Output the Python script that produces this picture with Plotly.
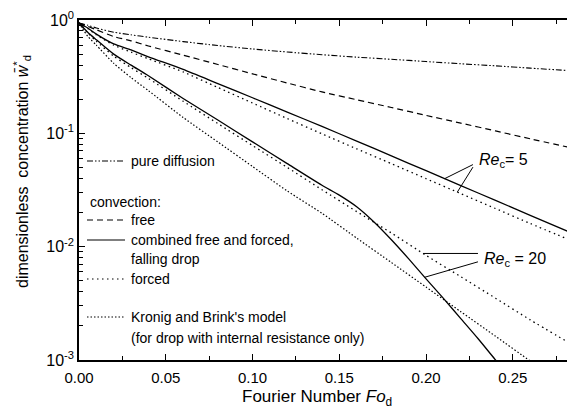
import numpy as np
import plotly.graph_objects as go

# ---------------- data ----------------
fo_pure = [0, 0.005, 0.01, 0.02, 0.03, 0.04, 0.06, 0.08, 0.10, 0.12, 0.14, 0.16, 0.18, 0.20, 0.22, 0.24, 0.26, 0.282]
w_pure = [0.94, 0.90, 0.85, 0.78, 0.74, 0.705, 0.645, 0.595, 0.555, 0.522, 0.494, 0.47, 0.45, 0.43, 0.411, 0.394, 0.376, 0.358]

fo_free = [0, 0.005, 0.01, 0.02, 0.03, 0.04, 0.06, 0.08, 0.10, 0.12, 0.14, 0.16, 0.18, 0.20, 0.22, 0.24, 0.26, 0.282]
w_free = [0.94, 0.88, 0.82, 0.715, 0.655, 0.59, 0.49, 0.405, 0.335, 0.278, 0.232, 0.198, 0.169, 0.144, 0.123, 0.105, 0.0895, 0.0755]

fo_comb5 = [0, 0.005, 0.01, 0.02, 0.03, 0.04, 0.06, 0.08, 0.10, 0.12, 0.14, 0.16, 0.18, 0.20, 0.22, 0.24, 0.26, 0.282]
w_comb5 = [0.94, 0.85, 0.75, 0.615, 0.545, 0.473, 0.367, 0.275, 0.206, 0.154, 0.115, 0.0855, 0.0632, 0.0468, 0.0346, 0.0256, 0.0189, 0.0136]

fo_forc5 = [0, 0.005, 0.01, 0.02, 0.03, 0.04, 0.06, 0.08, 0.10, 0.12, 0.14, 0.16, 0.18, 0.20, 0.22, 0.24, 0.26, 0.282]
w_forc5 = [0.94, 0.84, 0.74, 0.60, 0.52, 0.455, 0.348, 0.254, 0.185, 0.135, 0.099, 0.073, 0.054, 0.0398, 0.0294, 0.0217, 0.016, 0.0116]

fo_comb20 = [0, 0.005, 0.01, 0.02, 0.03, 0.04, 0.06, 0.08, 0.10, 0.12, 0.14, 0.15, 0.16, 0.17, 0.18, 0.19, 0.20, 0.21, 0.22, 0.23, 0.24, 0.25]
w_comb20 = [0.94, 0.78, 0.67, 0.50, 0.40, 0.322, 0.203, 0.131, 0.084, 0.054, 0.0348, 0.0285, 0.0225, 0.0165, 0.0115, 0.0078, 0.0052, 0.0035, 0.00232, 0.00154, 0.00100, 0.00065]

fo_forc20 = [0, 0.005, 0.01, 0.02, 0.03, 0.04, 0.06, 0.08, 0.10, 0.12, 0.14, 0.16, 0.18, 0.20, 0.22, 0.24, 0.26, 0.282]
w_forc20 = [0.94, 0.77, 0.65, 0.48, 0.38, 0.305, 0.192, 0.122, 0.078, 0.050, 0.0318, 0.0204, 0.0132, 0.00838, 0.00543, 0.00351, 0.00226, 0.00143]

fo_kb = [0, 0.005, 0.01, 0.02, 0.03, 0.04, 0.06, 0.08, 0.10, 0.12, 0.14, 0.16, 0.18, 0.20, 0.22, 0.24, 0.26, 0.27]
w_kb = [0.94, 0.72, 0.60, 0.415, 0.31, 0.238, 0.138, 0.084, 0.051, 0.031, 0.0197, 0.0119, 0.00725, 0.0044, 0.00267, 0.00162, 0.00098, 0.00076]

x_ticks = [0, 0.05, 0.10, 0.15, 0.20, 0.25]
x_tick_labels = ["0.00", "0.05", "0.10", "0.15", "0.20", "0.25"]
y_ticks = [1e-3, 1e-2, 1e-1, 1]
y_tick_labels = ["10<sup>-3</sup>", "10<sup>-2</sup>", "10<sup>-1</sup>", "10<sup>0</sup>"]

legend_labels = ["pure diffusion", "convection:", "free", "combined free and forced,",
                 "falling drop", "forced", "Kronig and Brink's model",
                 "(for drop with internal resistance only)"]

# ---------------- styles ----------------
FONT = "Liberation Sans, Arial, Helvetica, sans-serif"
D_PURE = "6px,2px,1.5px,2px,1.5px,2px"
D_FREE = "6px,4px"
D_FORC = "1.5px,3.5px"
D_KB = "1.5px,2px"

W, H = 567, 408
L, R, T, B = 79, 0, 20, 48
PW, PH = W - L - R, H - T - B


def px(xp):
    return (xp - L) / PW


def py(yp):
    return (H - B - yp) / PH


def on_curve(fo, w, f):
    return 10 ** np.interp(f, fo, np.log10(w))


fig = go.Figure()


def add(fo, w, dash, width=1.2):
    fig.add_trace(go.Scatter(x=fo, y=w, mode="lines", showlegend=False, hoverinfo="skip",
                             line=dict(color="black", width=width, dash=dash,
                                       shape="spline", smoothing=0.6)))


add(fo_pure, w_pure, D_PURE, 1.1)
add(fo_free, w_free, D_FREE, 1.2)
add(fo_comb5, w_comb5, "solid", 1.3)
add(fo_forc5, w_forc5, D_FORC, 1.3)
add(fo_comb20, w_comb20, "solid", 1.3)
add(fo_forc20, w_forc20, D_FORC, 1.3)
add(fo_kb, w_kb, D_KB, 1.2)

# leader lines for the Re labels
re5_end = (0.2270, 0.053)
re20_end_a = 0.2299
re20_end_b = (0.2299, 0.00735)
leaders = [
    ([re5_end[0], 0.2107], [re5_end[1], on_curve(fo_comb5, w_comb5, 0.2107)]),
    ([re5_end[0], 0.2180], [re5_end[1] * 0.95, on_curve(fo_forc5, w_forc5, 0.2180)]),
    ([re20_end_a, 0.1983], [on_curve(fo_forc20, w_forc20, 0.1983)] * 2),
    ([re20_end_b[0], 0.1992], [re20_end_b[1], on_curve(fo_comb20, w_comb20, 0.1992)]),
]
for xs, ys in leaders:
    fig.add_trace(go.Scatter(x=xs, y=ys, mode="lines", showlegend=False, hoverinfo="skip",
                             line=dict(color="black", width=1)))

# legend (drawn manually)
shapes = []
samples = [(161, D_PURE), (220, D_FREE), (240, "solid"), (279, D_FORC), (317, D_KB)]
for yy, dash in samples:
    shapes.append(dict(type="line", xref="paper", yref="paper", x0=px(87), x1=px(125),
                       y0=py(yy), y1=py(yy), line=dict(color="black", width=1.2, dash=dash)))

ann = []
leg_pos = [(128.5, 161), (88, 201.5), (128.5, 220), (128.5, 240), (128.5, 259),
           (128.5, 279), (128.5, 317), (128.5, 337.5)]
for text, (xx, yy) in zip(legend_labels, leg_pos):
    ann.append(dict(text=text, xref="paper", yref="paper", x=px(xx), y=py(yy),
                    xanchor="left", yanchor="middle", showarrow=False,
                    font=dict(size=14, color="black", family=FONT)))

ann.append(dict(text="<i>Re</i><sub>c</sub>= 5", xref="paper", yref="paper", x=px(477), y=py(160),
                xanchor="left", yanchor="middle", showarrow=False,
                font=dict(size=16, color="black", family=FONT)))
ann.append(dict(text="<i>Re</i><sub>c</sub> = 20", xref="paper", yref="paper", x=px(482), y=py(259),
                xanchor="left", yanchor="middle", showarrow=False,
                font=dict(size=16, color="black", family=FONT)))

# axis titles
ann.append(dict(text="Fourier Number <i>Fo</i><sub>d</sub>", xref="paper", yref="paper",
                x=px(317), y=py(398), xanchor="center", yanchor="middle", showarrow=False,
                font=dict(size=17, color="black", family=FONT)))
ann.append(dict(text="dimensionless  concentration <i>w̄</i><sup>*</sup><sub>d</sub>",
                xref="paper", yref="paper", x=px(22), y=py(172), textangle=-90,
                xanchor="center", yanchor="middle", showarrow=False,
                font=dict(size=16, color="black", family=FONT)))

minor_y = [m * 10 ** e for e in (-3, -2, -1) for m in range(2, 10)]

fig.update_layout(
    width=W, height=H,
    margin=dict(l=L, r=R, t=T, b=B),
    paper_bgcolor="white", plot_bgcolor="white",
    font=dict(family=FONT, color="black"),
    shapes=shapes, annotations=ann,
    xaxis=dict(range=[0, 0.2812], showgrid=False, zeroline=False,
               showline=True, linecolor="black", linewidth=1.5, mirror="ticks",
               ticks="inside", ticklen=6, tickwidth=1.2, tickcolor="black",
               tickvals=x_ticks, ticktext=x_tick_labels,
               tickfont=dict(size=15, family=FONT, color="black"),
               ticklabelstandoff=3,
               minor=dict(tickvals=[0.025, 0.075, 0.125, 0.175, 0.225, 0.275],
                          ticks="inside", ticklen=4, tickcolor="black", tickwidth=1)),
    yaxis=dict(type="log", range=[-3, 0], showgrid=False, zeroline=False,
               showline=True, linecolor="black", linewidth=1.5, mirror=False,
               ticks="inside", ticklen=6, tickwidth=1.2, tickcolor="black",
               tickvals=y_ticks, ticktext=y_tick_labels,
               tickfont=dict(size=16, family=FONT, color="black"),
               minor=dict(tickvals=minor_y, ticks="inside", ticklen=4,
                          tickcolor="black", tickwidth=1)),
)

fig.write_html("out.html", config={"displayModeBar": False},
               post_script="document.body.style.margin='0px';")
